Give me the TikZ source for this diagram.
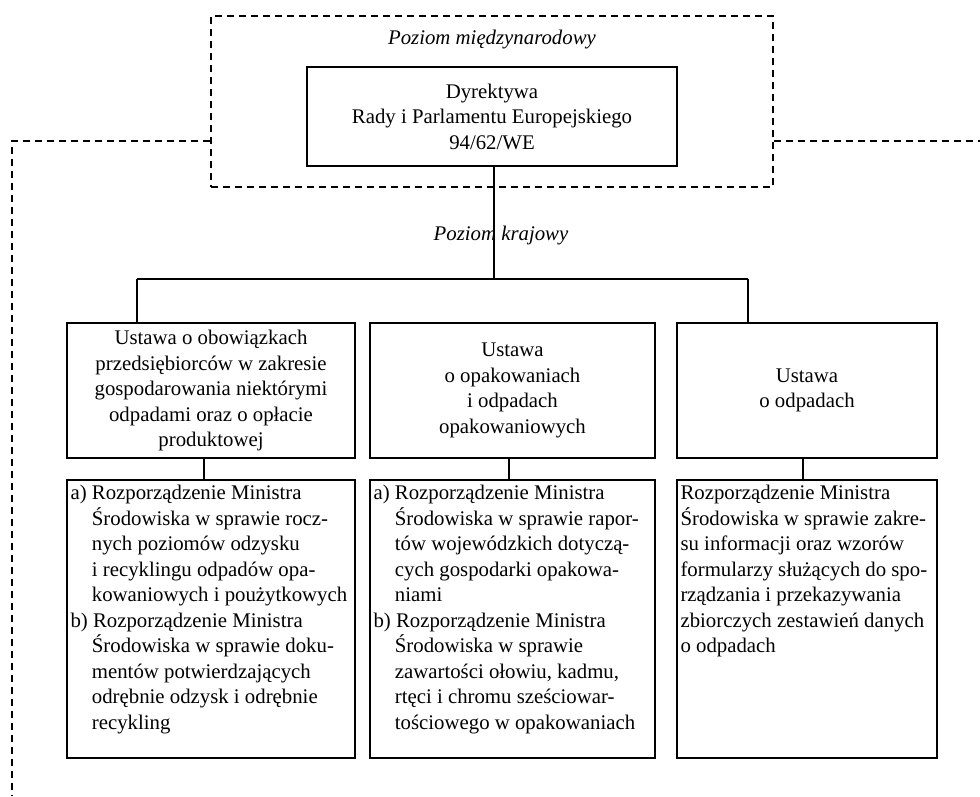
\documentclass[tikz,border=0pt]{standalone}
\usepackage{fontspec}
\setmainfont{Liberation Serif}
\usepackage{tikz}
\usetikzlibrary{positioning,calc}

\newcommand{\ind}{\hphantom{a)\ }}

\begin{document}
\begin{tikzpicture}[
    x=1pt, y=-1pt,
    box/.style={draw, line width=1.3pt, inner sep=0pt, align=center,
                font=\fontsize{20.8}{25.5}\selectfont},
    lowtext/.style={anchor=north west, align=left, inner xsep=4pt, inner ysep=6pt,
                font=\fontsize{20.8}{25.5}\selectfont},
    level/.style={font=\fontsize{20.8}{25.5}\selectfont\itshape},
    conn/.style={line width=1.3pt},
    leader/.style={line width=1.3pt, dash pattern=on 7pt off 5pt}
]
    \useasboundingbox (0,0) rectangle (980,796);

    % International level
    \node[box, dash pattern=on 7pt off 5pt, minimum width=562pt, minimum height=171pt] (intl) at (492,101.5) {};
    \node[level] (intlab) at (492,40) {Poziom międzynarodowy};
    \node[box, minimum width=370pt, minimum height=99pt] (dyr) at (492,116.5) {Dyrektywa\\Rady i Parlamentu Europejskiego\\94/62/WE};

    % National level
    \node[level] (natlab) at (501,236) {Poziom krajowy};

    % Acts
    \node[box, minimum width=288pt, minimum height=135pt] (u1) at (211,390.5) {Ustawa o obowiązkach\\przedsiębiorców w zakresie\\gospodarowania niektórymi\\odpadami oraz o opłacie\\produktowej};
    \node[box, minimum width=285pt, minimum height=135pt] (u2) at (512.5,390.5) {Ustawa\\o opakowaniach\\i odpadach\\opakowaniowych};
    \node[box, minimum width=260pt, minimum height=135pt] (u3) at (807,390.5) {Ustawa\\o odpadach};

    % Regulations
    \node[box, minimum width=288pt, minimum height=278pt] (r1) at (211,619) {};
    \node[box, minimum width=285pt, minimum height=278pt] (r2) at (512.5,619) {};
    \node[box, minimum width=260pt, minimum height=278pt] (r3) at (807,619) {};

    \node[lowtext] (r1txt) at (r1.north west) {a) Rozporządzenie Ministra\\\ind Środowiska w sprawie rocz-\\\ind nych poziomów odzysku\\\ind i recyklingu odpadów opa-\\\ind kowaniowych i poużytkowych\\b) Rozporządzenie Ministra\\\ind Środowiska w sprawie doku-\\\ind mentów potwierdzających\\\ind odrębnie odzysk i odrębnie\\\ind recykling};
    \node[lowtext] (r2txt) at (r2.north west) {a) Rozporządzenie Ministra\\\ind Środowiska w sprawie rapor-\\\ind tów wojewódzkich dotyczą-\\\ind cych gospodarki opakowa-\\\ind niami\\b) Rozporządzenie Ministra\\\ind Środowiska w sprawie\\\ind zawartości ołowiu, kadmu,\\\ind rtęci i chromu sześciowar-\\\ind tościowego w opakowaniach};
    \node[lowtext] (r3txt) at (r3.north west) {Rozporządzenie Ministra\\Środowiska w sprawie zakre-\\su informacji oraz wzorów\\formularzy służących do spo-\\rządzania i przekazywania\\zbiorczych zestawień danych\\o odpadach};

    % Connectors
    \coordinate (busL) at (137,279);
    \coordinate (busR) at (748,279);
    \draw[conn] ([xshift=2pt]dyr.south) -- ([xshift=2pt]dyr.south |- busL);
    \draw[conn] (busL) -- (busR);
    \draw[conn] (busL) -- (busL |- u1.north);
    \draw[conn] (busR) -- (busR |- u3.north);
    \draw[conn] ([xshift=-7pt]u1.south) -- ([xshift=-7pt]r1.north);
    \draw[conn] ([xshift=-3.5pt]u2.south) -- ([xshift=-3.5pt]r2.north);
    \draw[conn] ([xshift=-4pt]u3.south) -- ([xshift=-4pt]r3.north);

    % Dashed leaders
    \coordinate (ltop) at (12,141);
    \coordinate (lbot) at (12,796);
    \coordinate (rend) at (980,141);
    \draw[leader] (intl.west |- ltop) -- (ltop) -- (lbot);
    \draw[leader] (intl.east |- rend) -- (rend);
\end{tikzpicture}
\end{document}
